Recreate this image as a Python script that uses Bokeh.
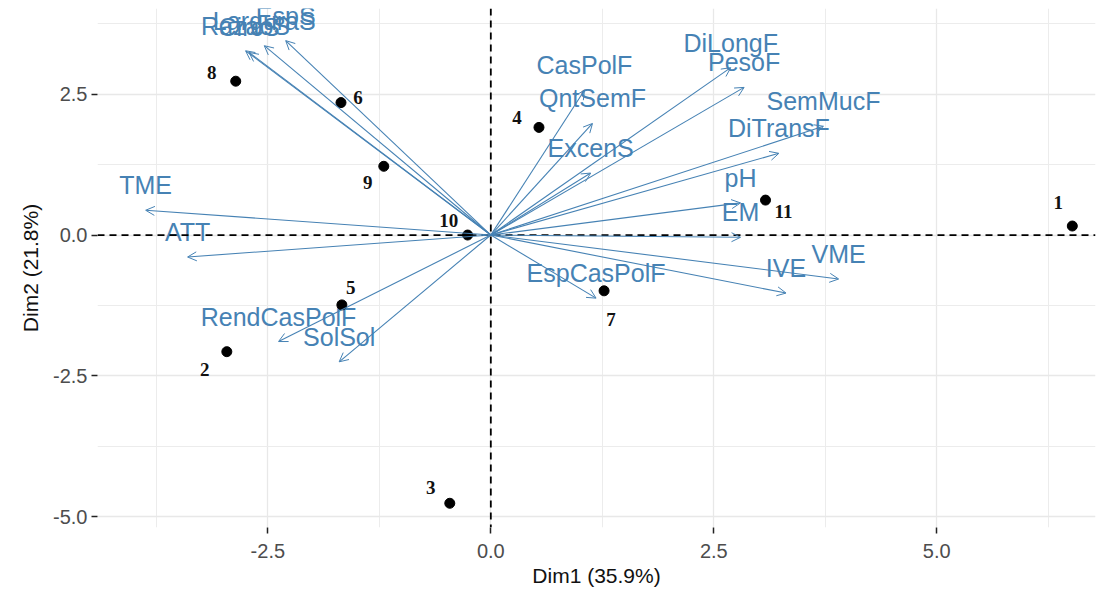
from bokeh.plotting import figure
from bokeh.models import (ColumnDataSource, Arrow, OpenHead, Span, FixedTicker,
                          Range1d, PrintfTickFormatter)
from bokeh.core.properties import value
from bokeh.embed import file_html
from bokeh.resources import INLINE

# ---- data ----
ind_names = ["1", "2", "3", "4", "5", "6", "7", "8", "9", "10", "11"]
ind_x = [6.52, -2.96, -0.46, 0.54, -1.67, -1.68, 1.27, -2.86, -1.20, -0.26, 3.08]
ind_y = [0.16, -2.07, -4.76, 1.91, -1.24, 2.35, -0.99, 2.73, 1.22, 0.00, 0.62]

var_names = ["TME", "ATT", "RendCasPolF", "SolSol", "EspCasPolF", "IVE", "VME",
             "EM", "pH", "DiTransF", "SemMucF", "PesoF", "DiLongF", "CasPolF",
             "QntSemF", "ExcenS", "RazaoS", "CircS", "LarguraS", "EspS"]
var_x = [-3.87, -3.40, -2.38, -1.70, 1.18, 3.31, 3.90, 2.80, 2.80, 3.23, 3.73,
         2.84, 2.69, 1.05, 1.14, 1.12, -2.75, -2.71, -2.54, -2.30]
var_y = [0.44, -0.39, -1.89, -2.25, -1.12, -1.03, -0.78, -0.04, 0.57, 1.45, 1.93,
         2.62, 2.97, 2.57, 1.98, 1.10, 3.27, 3.24, 3.36, 3.45]

x_ticks = [-2.5, 0.0, 2.5, 5.0]
y_ticks = [-5.0, -2.5, 0.0, 2.5]
x_title = "Dim1 (35.9%)"
y_title = "Dim2 (21.8%)"

# label nudges (pixels, layout only)
ind_dx = [-14, -22, -19, -22, 9, 17, 7, -24, -16, -19, 18]
ind_dy = [24, -18, 16, 10, 17, 5, -29, 9, -16, 15, -11]

STEEL = "#4682B4"

p = figure(width=1099, height=589, output_backend="svg", toolbar_location=None,
           x_range=Range1d(-4.41, 6.78), y_range=Range1d(-5.19, 4.02),
           min_border_left=97, min_border_right=4, min_border_top=8,
           min_border_bottom=61)
p.outline_line_color = None
p.background_fill_color = "white"
p.border_fill_color = "white"

# grid
p.xaxis.ticker = FixedTicker(ticks=x_ticks, minor_ticks=[-3.75, -1.25, 1.25, 3.75, 6.25])
p.yaxis.ticker = FixedTicker(ticks=y_ticks, minor_ticks=[-3.75, -1.25, 1.25, 3.75])
p.xaxis.formatter = PrintfTickFormatter(format="%.1f")
p.yaxis.formatter = PrintfTickFormatter(format="%.1f")
for g in (p.xgrid, p.ygrid):
    g.grid_line_color = "#e8e8e8"
    g.grid_line_width = 1.3
    g.minor_grid_line_color = "#ececec"
    g.minor_grid_line_width = 1

for ax in (p.xaxis, p.yaxis):
    ax.axis_line_color = None
    ax.major_tick_line_color = "#222222"
    ax.major_tick_line_width = 1.5
    ax.major_tick_in = 0
    ax.major_tick_out = 6
    ax.minor_tick_line_color = None
    ax.major_label_text_font = "Liberation Sans"
    ax.major_label_text_font_size = "20px"
    ax.major_label_text_color = "#4d4d4d"
    ax.axis_label_text_font = "Liberation Sans"
    ax.axis_label_text_font_size = "21px"
    ax.axis_label_text_font_style = "normal"
    ax.axis_label_text_color = "#111111"
p.xaxis.axis_label = x_title
p.yaxis.axis_label = y_title
p.xaxis.major_label_standoff = 10
p.yaxis.major_label_standoff = 4
p.xaxis.axis_label_standoff = 3
p.yaxis.axis_label_standoff = 8

# reference dashed lines
p.add_layout(Span(location=0, dimension="width", line_color="black",
                  line_dash="7 5", line_width=1.8))
p.add_layout(Span(location=0, dimension="height", line_color="black",
                  line_dash="7 5", line_width=1.8))

# variable arrows
vsrc = ColumnDataSource(dict(x0=[0.0] * len(var_x), y0=[0.0] * len(var_y),
                             x=var_x, y=var_y, name=var_names))
p.add_layout(Arrow(end=OpenHead(size=9, line_color=STEEL, line_width=1),
                   x_start="x0", y_start="y0", x_end="x", y_end="y",
                   source=vsrc, line_color=STEEL, line_width=1.1))
p.text(x="x", y="y", text="name", source=vsrc, text_color=STEEL,
       text_font=value("Liberation Sans"), text_font_size="25px",
       text_align="center", text_baseline="middle", y_offset=-25)

# individuals
isrc = ColumnDataSource(dict(x=ind_x, y=ind_y, name=ind_names,
                             dx=ind_dx, dy=[-d for d in ind_dy]))
p.scatter(x="x", y="y", source=isrc, size=10, color="black")
p.text(x="x", y="y", text="name", source=isrc, text_color="#111111",
       text_font=value("Liberation Serif"), text_font_size="19px",
       text_font_style="bold", text_align="center", text_baseline="middle",
       x_offset="dx", y_offset="dy")

open("out.html", "w").write(file_html(p, INLINE))
